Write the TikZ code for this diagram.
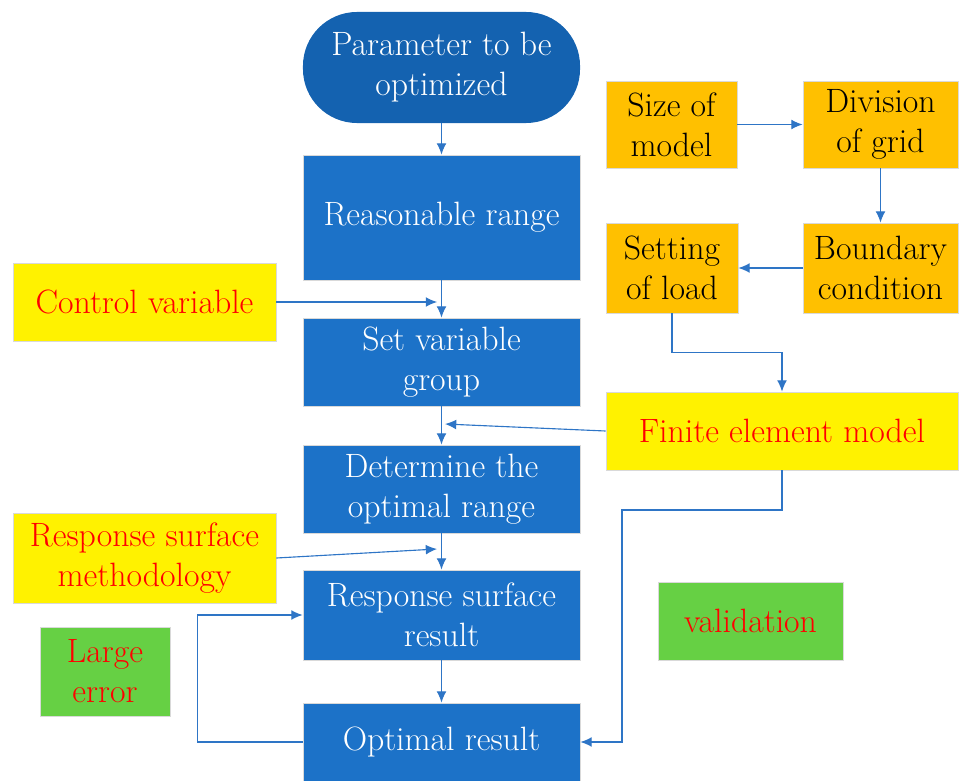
\documentclass[tikz,border=0pt]{standalone}
\usetikzlibrary{positioning,arrows.meta}
\definecolor{boxblue}{RGB}{28,114,200}
\definecolor{darkblue}{RGB}{20,98,176}
\definecolor{amber}{RGB}{255,192,0}
\definecolor{lime}{RGB}{102,208,68}
\definecolor{linkblue}{RGB}{46,117,198}
\tikzset{
	txt/.style={align=center, inner sep=2pt, draw=gray!30, line width=0.6pt, font=\fontsize{24}{28.5}\selectfont},
	blk/.style={txt, fill=boxblue, text=white, minimum width=6.925cm},
	inp/.style={txt, fill=yellow, text=red},
	fe/.style={txt, fill=amber, text=black},
	note/.style={txt, fill=lime, text=red},
	link/.style={draw=linkblue, line width=0.8pt, -{Latex[length=8pt,width=7pt]}},
}
\begin{document}
\begin{tikzpicture}[x=0.025cm, y=-0.025cm]
		\useasboundingbox (0,0) rectangle (961,781);
		% main column
		\node (start)[blk, fill=darkblue, draw=none, rounded corners=1.35cm, minimum height=2.775cm] at (441.5,67.5) {Parameter to be\\optimized};
		\node (range)[blk, minimum height=3.125cm] at (441.5,217.5) {Reasonable range};
		\node (setvar)[blk, minimum height=2.2cm] at (441.5,362) {Set variable\\group};
		\node (optrange)[blk, minimum height=2.2cm] at (441.5,489) {Determine the\\optimal range};
		\node (rsr)[blk, minimum height=2.25cm] at (441.5,615) {Response surface\\result};
		\node (optres)[blk, minimum height=1.95cm] at (441.5,742) {Optimal result};
		% inputs on the left
		\node (ctrl)[inp, minimum width=6.575cm, minimum height=1.95cm] at (144.5,302) {Control variable};
		\node (rsm)[inp, minimum width=6.575cm, minimum height=2.25cm] at (144.5,558) {Response surface\\methodology};
		\node (large)[note, minimum width=3.25cm, minimum height=2.225cm] at (105,671.5) {Large\\error};
		% finite element part
		\node (size)[fe, minimum width=3.275cm, minimum height=2.175cm] at (671.5,124.5) {Size of\\model};
		\node (division)[fe, minimum width=3.875cm, minimum height=2.175cm] at (880.5,124.5) {Division\\of grid};
		\node (boundary)[fe, minimum width=3.875cm, minimum height=2.25cm] at (880.5,268) {Boundary\\condition};
		\node (setting)[fe, minimum width=3.3cm, minimum height=2.25cm] at (672,268) {Setting\\of load};
		\node (fem)[inp, minimum width=8.8cm, minimum height=1.95cm] at (782,431) {Finite element model};
		\node (valid)[note, minimum width=4.625cm, minimum height=1.95cm] at (750.5,621) {validation};
		%
		\draw [link](start)--(range);
		\draw [link](range)--(setvar);
		\draw [link](setvar)--(optrange);
		\draw [link](optrange)--(rsr);
		\draw [link](rsr)--(optres);
		\coordinate (c1) at (437,302);
		\draw [link](ctrl.east)--(c1);
		\coordinate (c2) at (445,424);
		\draw [link](fem.west)--(c2);
		\coordinate (c3) at (437,549);
		\draw [link](rsm.east)--(c3);
		\draw [link](optres.west)--++(-105,0)|-(rsr.west);
		\coordinate (c4) at (622,510);
		\draw [link](fem.south)|-(c4)|-(optres.east);
		%
		\draw [link](size)--(division);
		\draw [link](division)--(boundary);
		\draw [link](boundary)--(setting);
		\draw [link](setting.south)--++(0,39)-|(fem.north);
	\end{tikzpicture}
\end{document}
